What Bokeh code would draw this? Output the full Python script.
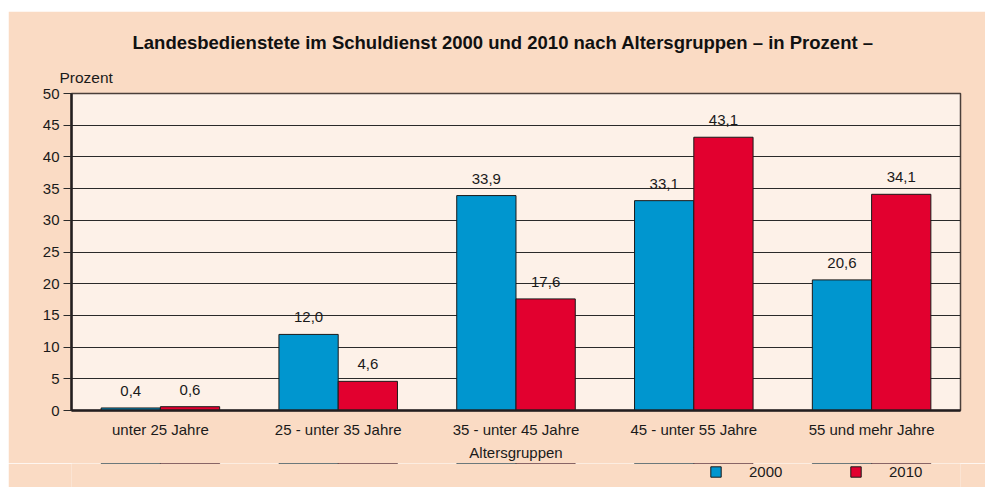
from bokeh.plotting import figure
from bokeh.layouts import column
from bokeh.models import (ColumnDataSource, FactorRange, Range1d, LabelSet, Legend, LegendItem,
                          SingleIntervalTicker, Title)
from bokeh.core.properties import value
from bokeh.transform import dodge
from bokeh.embed import file_html
from bokeh.resources import INLINE

categories = ["unter 25 Jahre", "25 - unter 35 Jahre", "35 - unter 45 Jahre",
              "45 - unter 55 Jahre", "55 und mehr Jahre"]
values_2000 = [0.4, 12.0, 33.9, 33.1, 20.6]
values_2010 = [0.6, 4.6, 17.6, 43.1, 34.1]
series_names = ["2000", "2010"]

BLUE = "#0096CF"
RED = "#E2002F"
OUTER = "#FADBC4"
INNER = "#FDF1E8"
FONT = "Liberation Sans"

def fmt(v):
    return f"{v:.1f}".replace(".", ",")

src = ColumnDataSource(dict(
    cat=categories,
    v2000=values_2000,
    v2010=values_2010,
    l2000=[fmt(v) for v in values_2000],
    l2010=[fmt(v) for v in values_2010],
))

p = figure(width=977, height=451, frame_width=889, frame_height=317,
           x_range=FactorRange(factors=categories, range_padding=0),
           y_range=Range1d(0, 50), output_backend="svg", toolbar_location=None,
           min_border_left=63, min_border_right=25, min_border_top=82, min_border_bottom=52,
           margin=(11, 0, 0, 8))
p.border_fill_color = OUTER
p.background_fill_color = INNER
p.outline_line_color = "#4a3f3a"
p.outline_line_width = 1.5

r1 = p.vbar(x=dodge("cat", -1/6, range=p.x_range), top="v2000", width=1/3, source=src,
            fill_color=BLUE, line_color="#1a1a1a", line_width=1)
r2 = p.vbar(x=dodge("cat", 1/6, range=p.x_range), top="v2010", width=1/3, source=src,
            fill_color=RED, line_color="#1a1a1a", line_width=1)

for col, lab, off in (("v2000", "l2000", -1/6), ("v2010", "l2010", 1/6)):
    p.add_layout(LabelSet(x=dodge("cat", off, range=p.x_range), y=col, text=lab, source=src,
                          text_align="center", text_baseline="bottom", y_offset=12,
                          text_font=value(FONT), text_font_size=value("15px"),
                          text_color="#1a1a1a"))

p.xgrid.grid_line_color = None
p.ygrid.grid_line_color = "#2a2a2a"
p.ygrid.grid_line_width = 1
p.ygrid.ticker = SingleIntervalTicker(interval=5)

p.yaxis.ticker = SingleIntervalTicker(interval=5)
p.yaxis.minor_tick_line_color = None
p.yaxis.major_tick_in = 0
p.yaxis.major_tick_out = 8
p.yaxis.major_tick_line_color = "#2a2a2a"
p.yaxis.axis_line_width = 2.5
p.yaxis.axis_line_color = "#231F20"
p.yaxis.major_label_text_font = FONT
p.yaxis.major_label_text_font_size = "15px"
p.yaxis.major_label_text_color = "#1a1a1a"
p.yaxis.major_label_standoff = 4

p.xaxis.major_tick_line_color = None
p.xaxis.minor_tick_line_color = None
p.xaxis.axis_line_width = 2.5
p.xaxis.axis_line_color = "#231F20"
p.xaxis.major_label_text_font = FONT
p.xaxis.major_label_text_font_size = "15px"
p.xaxis.major_label_text_color = "#1a1a1a"
p.xaxis.major_label_standoff = 4
p.xaxis.axis_label = "Altersgruppen"
p.xaxis.axis_label_text_font = FONT
p.xaxis.axis_label_text_font_size = "15px"
p.xaxis.axis_label_text_font_style = "normal"
p.xaxis.axis_label_text_color = "#1a1a1a"
p.xaxis.axis_label_standoff = 3

p.title.text = "Landesbedienstete im Schuldienst 2000 und 2010 nach Altersgruppen \u2013 in Prozent \u2013"
p.title.align = "left"
p.title.offset = 61
p.title.standoff = 12
p.title.text_font = FONT
p.title.text_font_size = "18.5px"
p.title.text_font_style = "bold"
p.title.text_color = "#111111"
p.add_layout(Title(text="Prozent", align="left", offset=-12, standoff=16, text_font=FONT,
                   text_font_size="15.5px", text_font_style="normal", text_color="#1a1a1a"), "above")

# legend strip below the chart (its y range lies far below 0, so the bars themselves stay hidden)
lg = figure(width=977, height=25, output_backend="svg", toolbar_location=None,
            x_range=p.x_range, y_range=Range1d(-1001, -1000),
            x_axis_type=None, y_axis_type=None, title_location=None,
            min_border=0, margin=(0, 0, 0, 8))
lg.border_fill_color = OUTER
lg.background_fill_color = OUTER
lg.outline_line_color = None
lg.grid.visible = False
e1 = lg.vbar(x=dodge("cat", -1/6, range=p.x_range), top="v2000", width=1/3, source=src,
             fill_color=BLUE, line_color="#1a1a1a", line_width=1)
e2 = lg.vbar(x=dodge("cat", 1/6, range=p.x_range), top="v2010", width=1/3, source=src,
             fill_color=RED, line_color="#1a1a1a", line_width=1)

legend = Legend(items=[LegendItem(label=series_names[0], renderers=[e1]),
                       LegendItem(label=series_names[1], renderers=[e2])],
                orientation="horizontal", location=(638, 8),
                background_fill_alpha=0, border_line_color=None,
                padding=0, margin=0, spacing=29,
                glyph_width=13, glyph_height=13, label_width=71, label_height=13,
                label_standoff=27, label_text_font=FONT, label_text_font_size="15px",
                label_text_color="#1a1a1a")
lg.add_layout(legend, "center")

layout = column(p, lg, spacing=0)
open("out.html", "w").write(file_html(layout, INLINE))
